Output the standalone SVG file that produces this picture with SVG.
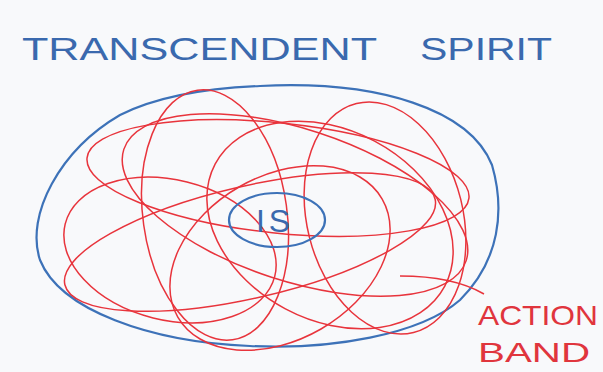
<svg xmlns="http://www.w3.org/2000/svg" width="603" height="372" viewBox="0 0 603 372">
<style>
.blue{fill:none;stroke:#3d72b8;stroke-width:2.2}
.red{fill:none;stroke:#e8343c;stroke-width:1.5}
.bt{fill:#3a69ae;font-family:"Liberation Sans",Arial,sans-serif}
.rt{fill:#e0353d;font-family:"Liberation Sans",Arial,sans-serif}
</style>
<rect width="603" height="372" fill="#f8f9fb"/>
<g id="title">
<text class="bt" x="22" y="60" font-size="32" textLength="355" lengthAdjust="spacingAndGlyphs">TRANSCENDENT</text>
<text class="bt" x="420" y="60" font-size="32" textLength="132" lengthAdjust="spacingAndGlyphs">SPIRIT</text>
</g>
<g id="spirit">
<path class="blue" d="M260,86 C380,80 470,110 492,165 C505,210 500,260 460,300 C420,335 330,350 250,346 C150,342 60,310 40,260 C25,215 60,150 120,115 C160,95 210,88 260,86 Z"/>
</g>
<g id="action-band">
<ellipse class="red" cx="215" cy="215" rx="72" ry="126" transform="rotate(-8 215 215)"/>
<ellipse class="red" cx="278" cy="178" rx="192" ry="55" transform="rotate(6 278 178)"/>
<ellipse class="red" cx="250" cy="242" rx="190" ry="56" transform="rotate(-13 250 242)"/>
<ellipse class="red" cx="330" cy="225" rx="130" ry="95" transform="rotate(28 330 225)"/>
<ellipse class="red" cx="170" cy="250" rx="108" ry="70" transform="rotate(14 170 250)"/>
<ellipse class="red" cx="385" cy="218" rx="78" ry="118" transform="rotate(-14 385 218)"/>
<ellipse class="red" cx="295" cy="205" rx="180" ry="76" transform="rotate(18 295 205)"/>
<ellipse class="red" cx="280" cy="258" rx="118" ry="82" transform="rotate(-30 280 258)"/>
<path class="red" d="M400,276 C430,276 460,280 484,294"/>
<text class="rt" x="478" y="325" font-size="28" textLength="120" lengthAdjust="spacingAndGlyphs">ACTION</text>
<text class="rt" x="478" y="362" font-size="28" textLength="112" lengthAdjust="spacingAndGlyphs">BAND</text>
</g>
<g id="is">
<ellipse class="blue" cx="277" cy="220" rx="48" ry="27"/>
<text class="bt" x="275" y="232" font-size="32" text-anchor="middle" letter-spacing="4">IS</text>
</g>
</svg>
